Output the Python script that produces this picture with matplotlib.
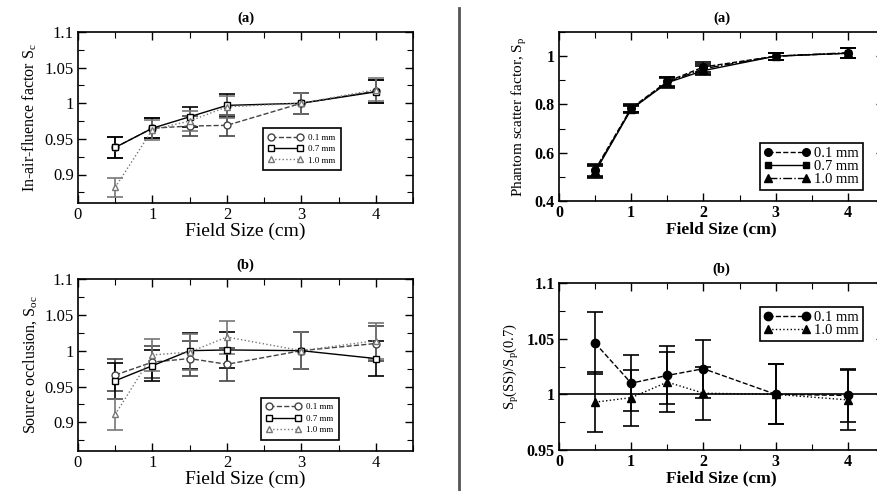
import matplotlib
matplotlib.use("Agg")
import matplotlib.pyplot as plt
from matplotlib.lines import Line2D
from matplotlib.ticker import MultipleLocator, FuncFormatter

plt.rcParams['font.family'] = 'Liberation Serif'
plt.rcParams['mathtext.fontset'] = 'custom'
plt.rcParams['mathtext.rm'] = 'Liberation Serif'
plt.rcParams['mathtext.it'] = 'Liberation Serif:italic'

# field sizes (cm)
field = [0.5, 1, 1.5, 2, 3, 4]

# (a) left: in-air fluence factor Sc
sc_01 = [0.938, 0.965, 0.968, 0.969, 1.0, 1.017]
sc_07 = [0.938, 0.965, 0.981, 0.997, 1.0, 1.016]
sc_10 = [0.882, 0.963, 0.975, 0.995, 1.0, 1.019]
sc_err_01 = [0.015, 0.014, 0.014, 0.015, 0.015, 0.016]
sc_err_07 = [0.015, 0.014, 0.014, 0.016, 0.015, 0.016]
sc_err_10 = [0.013, 0.014, 0.014, 0.015, 0.015, 0.016]

# (b) left: source occlusion Soc
soc_01 = [0.966, 0.984, 0.989, 0.981, 1.0, 1.010]
soc_07 = [0.958, 0.979, 1.0, 1.001, 1.0, 0.989]
soc_10 = [0.911, 0.994, 0.998, 1.019, 1.0, 1.014]
soc_err_01 = [0.022, 0.022, 0.025, 0.023, 0.026, 0.025]
soc_err_07 = [0.025, 0.022, 0.025, 0.025, 0.026, 0.025]
soc_err_10 = [0.022, 0.022, 0.025, 0.023, 0.026, 0.025]

# (a) right: phantom scatter factor Sp
sp_01 = [0.530, 0.785, 0.895, 0.955, 1.0, 1.012]
sp_07 = [0.520, 0.780, 0.890, 0.940, 1.0, 1.012]
sp_10 = [0.525, 0.782, 0.892, 0.948, 1.0, 1.014]
sp_err = [0.025, 0.015, 0.02, 0.02, 0.015, 0.02]

# (b) right: Sp(SS)/Sp(0.7)
rat_01 = [1.046, 1.010, 1.017, 1.023, 1.0, 0.999]
rat_10 = [0.993, 0.997, 1.011, 1.001, 1.0, 0.995]
rat_err_01 = [0.028, 0.025, 0.026, 0.026, 0.027, 0.024]
rat_err_10 = [0.027, 0.025, 0.027, 0.024, 0.027, 0.027]

W, H = 878, 491
fig = plt.figure(figsize=(W / 100, H / 100), dpi=100)


def box(l, t, r, b):
    return [l / W, 1 - b / H, (r - l) / W, (b - t) / H]


def style_axes(ax, ylim, ymaj, ymin, fs, bold=False):
    ax.set_xlim(0, 4.5)
    ax.set_ylim(*ylim)
    ax.xaxis.set_major_locator(MultipleLocator(1))
    ax.xaxis.set_minor_locator(MultipleLocator(0.5))
    ax.yaxis.set_major_locator(MultipleLocator(ymaj))
    ax.yaxis.set_minor_locator(MultipleLocator(ymin))
    ax.yaxis.set_major_formatter(FuncFormatter(lambda v, p: ('%g' % round(v, 3))))
    ax.tick_params(which='both', direction='in', top=True, right=True,
                   labelsize=fs, pad=3)
    ax.tick_params(which='major', length=6, width=1)
    ax.tick_params(which='minor', length=4, width=0.8)
    for s in ax.spines.values():
        s.set_linewidth(1.2)
    if bold:
        for lab in ax.get_xticklabels() + ax.get_yticklabels():
            lab.set_fontweight('bold')


def series(ax, y, e, marker, ls, color, mfc, ms=5):
    ax.errorbar(field, y, yerr=e, marker=marker, linestyle=ls, color=color,
                mfc=mfc, mec=color, ms=ms, lw=1.0, elinewidth=1.2,
                capsize=6, capthick=1.2)
    return Line2D([], [], marker=marker, linestyle=ls, color=color, mfc=mfc,
                  mec=color, ms=ms, lw=1.0)


def add_legend(ax, handles, labels, **kw):
    leg = ax.legend(handles, labels, fancybox=False, edgecolor='black',
                    framealpha=1, numpoints=2, borderaxespad=0, **kw)
    leg.get_frame().set_linewidth(1.2)


# ---- top left
ax1 = fig.add_axes(box(78, 32, 413, 203))
h1 = series(ax1, sc_01, sc_err_01, 'o', '--', '#444444', 'white')
h2 = series(ax1, sc_07, sc_err_07, 's', '-', 'black', 'white', ms=4.5)
h3 = series(ax1, sc_10, sc_err_10, '^', ':', '#777777', 'white')
style_axes(ax1, (0.86, 1.1), 0.05, 0.025, 12)
ax1.set_ylabel(r'In-air-fluence factor $\mathrm{S}_\mathrm{c}$', fontsize=11.5, labelpad=4)
ax1.set_xlabel('Field Size (cm)', fontsize=14, labelpad=0)
ax1.set_title('(a)', fontsize=10.5, fontweight='bold', pad=7)
add_legend(ax1, [h1, h2, h3], ['0.1 mm', '0.7 mm', '1.0 mm'],
           loc='upper left', bbox_to_anchor=(0.552, 0.439), fontsize=6.5,
           handlelength=3.8, borderpad=0.6, labelspacing=0.35, handletextpad=0.6)

# ---- bottom left
ax3 = fig.add_axes(box(78, 279, 413, 451))
h1 = series(ax3, soc_01, soc_err_01, 'o', '--', '#444444', 'white')
h2 = series(ax3, soc_07, soc_err_07, 's', '-', 'black', 'white', ms=4.5)
h3 = series(ax3, soc_10, soc_err_10, '^', ':', '#777777', 'white')
style_axes(ax3, (0.86, 1.1), 0.05, 0.025, 12)
ax3.set_ylabel(r'Source occlusion, $\mathrm{S}_\mathrm{oc}$', fontsize=11.5, labelpad=4)
ax3.set_xlabel('Field Size (cm)', fontsize=14, labelpad=0)
ax3.set_title('(b)', fontsize=10.5, fontweight='bold', pad=7)
add_legend(ax3, [h1, h2, h3], ['0.1 mm', '0.7 mm', '1.0 mm'],
           loc='upper left', bbox_to_anchor=(0.546, 0.31), fontsize=6.5,
           handlelength=3.8, borderpad=0.6, labelspacing=0.35, handletextpad=0.6)

# ---- top right
ax2 = fig.add_axes(box(559, 32, 884, 201))
h1 = series(ax2, sp_01, sp_err, 'o', '--', 'black', 'black', ms=5.5)
h2 = series(ax2, sp_07, sp_err, 's', '-', 'black', 'black', ms=5)
h3 = series(ax2, sp_10, sp_err, '^', '-.', 'black', 'black', ms=5.5)
style_axes(ax2, (0.4, 1.1), 0.2, 0.1, 11.5, bold=True)
ax2.set_ylabel(r'Phantom scatter factor, $\mathrm{S}_\mathrm{p}$', fontsize=11, labelpad=4)
ax2.set_xlabel('Field Size (cm)', fontsize=12.5, fontweight='bold', labelpad=0)
ax2.set_title('(a)', fontsize=10.5, fontweight='bold', pad=7)
add_legend(ax2, [h1, h2, h3], ['0.1 mm', '0.7 mm', '1.0 mm'],
           loc='lower right', bbox_to_anchor=(0.935, 0.065), fontsize=10.5,
           handlelength=3.2, borderpad=0.25, labelspacing=0.0, handletextpad=0.3)

# ---- bottom right
ax4 = fig.add_axes(box(559, 283, 884, 450))
ax4.axhline(1.0, color='black', lw=1.2)
h1 = series(ax4, rat_01, rat_err_01, 'o', '--', 'black', 'black', ms=6)
h3 = series(ax4, rat_10, rat_err_10, '^', ':', 'black', 'black', ms=5.5)
style_axes(ax4, (0.95, 1.1), 0.05, 0.025, 11.5, bold=True)
ax4.set_ylabel(r'$\mathrm{S}_\mathrm{p}$(SS)/$\mathrm{S}_\mathrm{p}$(0.7)', fontsize=10.5, labelpad=4)
ax4.set_xlabel('Field Size (cm)', fontsize=12.5, fontweight='bold', labelpad=0)
ax4.set_title('(b)', fontsize=10.5, fontweight='bold', pad=7)
add_legend(ax4, [h1, h3], ['0.1 mm', '1.0 mm'],
           loc='upper right', bbox_to_anchor=(0.935, 0.856), fontsize=10.5,
           handlelength=3.2, borderpad=0.25, labelspacing=0.0, handletextpad=0.3)

# vertical divider between the two figures
fig.add_artist(Line2D([459 / W, 459 / W], [0, 1 - 8 / H], color='#555555', lw=2))

fig.savefig('out.png', dpi=100)
